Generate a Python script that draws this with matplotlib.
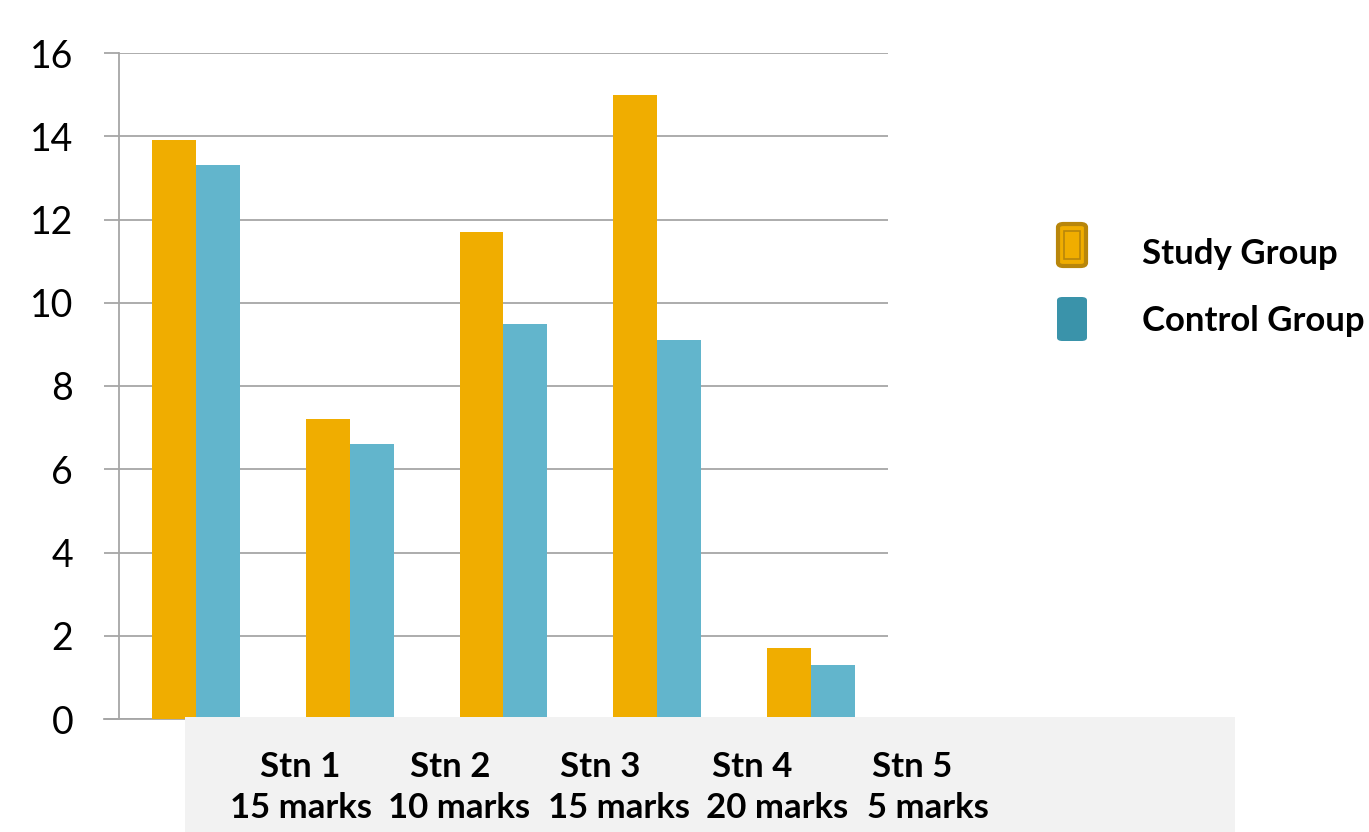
import matplotlib.pyplot as plt
from matplotlib.patches import FancyBboxPatch, Rectangle
import numpy as np

stations = ['Stn 1', 'Stn 2', 'Stn 3', 'Stn 4', 'Stn 5']
marks = ['15 marks', '10 marks', '15 marks', '20 marks', '5 marks']
study = [13.9, 7.2, 11.7, 15.0, 1.7]
control = [13.3, 6.6, 9.5, 9.1, 1.3]

ORANGE = '#f0ad00'
BLUE = '#62b5cc'
GRID = '#a6a6a6'
FONT = 'Lato'

W, H = 1369, 832
fig = plt.figure(figsize=(W / 100, H / 100), dpi=100)
fig.patch.set_facecolor('white')

# axes box in pixel terms: x 119..888, y 53..719 (from top)
ax = fig.add_axes([119 / W, 1 - 719 / H, 769 / W, 666 / H])

x = np.arange(len(stations))
bw = 0.285
ax.bar(x - bw / 2, study, bw, color=ORANGE, zorder=3)
ax.bar(x + bw / 2, control, bw, color=BLUE, zorder=3)

ax.set_xlim(-0.5, len(stations) - 0.5)
ax.set_ylim(0, 16)
ax.set_yticks(range(0, 17, 2))
ax.set_yticklabels([str(v) for v in range(0, 17, 2)], fontsize=27,
                   fontfamily=FONT)
ax.set_xticks([])
ax.grid(axis='y', color=GRID, linewidth=1.3, zorder=0)
ax.tick_params(axis='y', length=11, width=1.3, color=GRID, pad=22)
for side in ['top', 'right']:
    ax.spines[side].set_visible(False)
ax.spines['left'].set_color(GRID)
ax.spines['left'].set_linewidth(1.3)
ax.spines['bottom'].set_visible(False)
ax.axhline(0, color=GRID, linewidth=1.3, zorder=1, clip_on=False,
           xmin=-15 / 769)

# grey label panel below the plot
fig.patches.append(Rectangle((185 / W, 0), (1235 - 185) / W, (832 - 717) / H,
                             transform=fig.transFigure, facecolor='#f2f2f2',
                             edgecolor='none', zorder=5))

stn_x = [300, 450, 600, 752, 912]
mark_x = [301, 459, 619, 777, 928]
for i in range(len(stations)):
    fig.text(stn_x[i] / W, 1 - 767 / H, stations[i], fontsize=25,
             fontweight='bold', fontfamily=FONT, ha='center', va='center',
             zorder=6)
    fig.text(mark_x[i] / W, 1 - 808 / H, marks[i], fontsize=25,
             fontweight='bold', fontfamily=FONT, ha='center', va='center',
             zorder=6)

# legend
fig.patches.append(FancyBboxPatch((1058 / W, 1 - 266 / H), 28 / W, 42 / H,
                                  boxstyle='round,pad=0,rounding_size=0.004',
                                  transform=fig.transFigure, facecolor=ORANGE,
                                  edgecolor='#b8860b', linewidth=3))
fig.patches.append(Rectangle((1064 / W, 1 - 259 / H), 16 / W, 28 / H,
                             transform=fig.transFigure, facecolor='none',
                             edgecolor='#b8860b', linewidth=1.2))
fig.patches.append(FancyBboxPatch((1057 / W, 1 - 341 / H), 30 / W, 44 / H,
                                  boxstyle='round,pad=0,rounding_size=0.004',
                                  transform=fig.transFigure, facecolor='#3a93aa',
                                  edgecolor='none'))
fig.text(1142 / W, 1 - 254 / H, 'Study Group', fontsize=25, fontweight='bold',
         fontfamily=FONT, ha='left', va='center')
fig.text(1142 / W, 1 - 321 / H, 'Control Group', fontsize=25, fontweight='bold',
         fontfamily=FONT, ha='left', va='center')

fig.savefig('out.png', dpi=100, facecolor='white')
